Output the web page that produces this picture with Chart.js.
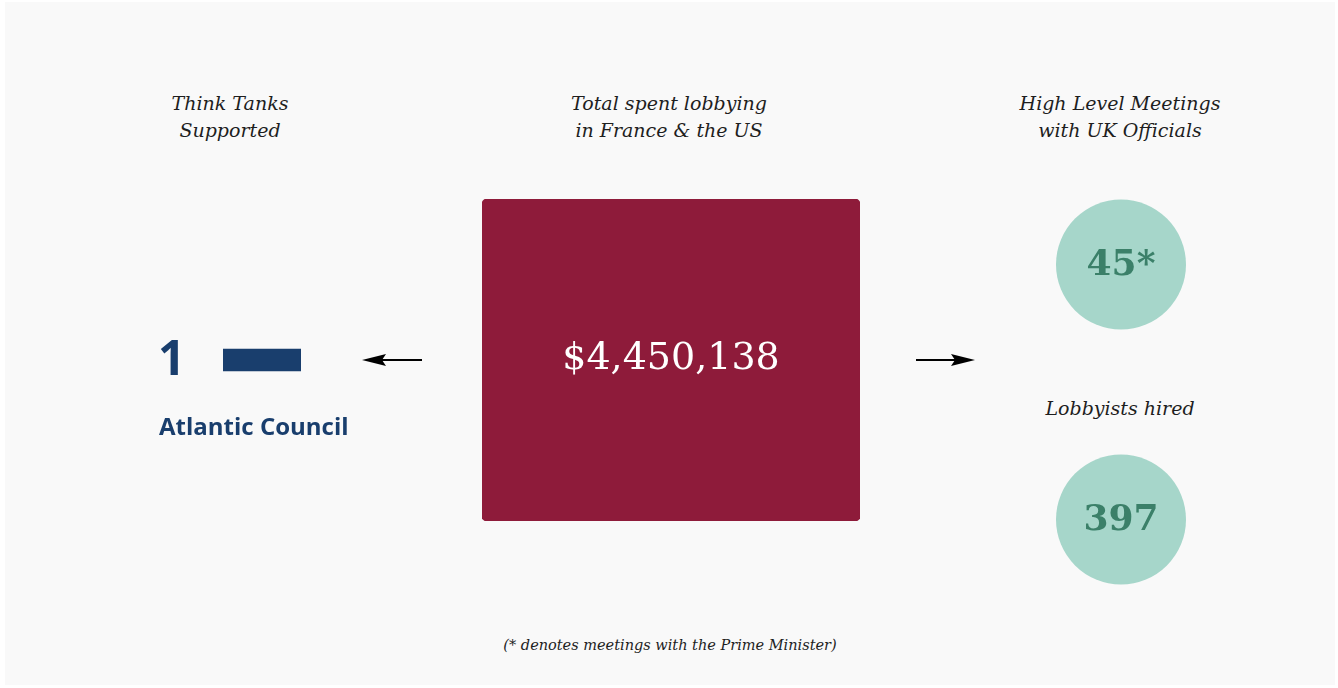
<!DOCTYPE html>
<html>
<head>
<meta charset="utf-8">
<script src="https://cdn.jsdelivr.net/npm/chart.js@4.4.1/dist/chart.umd.min.js"></script>
<style>
  html, body { margin: 0; padding: 0; background: #ffffff; overflow: hidden; }
  #panel { position: absolute; left: 5px; top: 2px; width: 1330px; height: 683px; background: #f9f9f9; }
  canvas { position: absolute; }
  .head { position: absolute; font-family: 'DejaVu Serif', serif; font-style: italic; font-size: 19px;
          line-height: 27px; color: #1e1e1e; text-align: center; white-space: pre; }
</style>
</head>
<body>
<div id="panel"></div>

<div class="head" style="left:130px; top:90px; width:200px;">Think Tanks
Supported</div>
<div class="head" style="left:519px; top:90px; width:300px;">Total spent lobbying
in France &amp; the US</div>
<div class="head" style="left:970px; top:90px; width:300px;">High Level Meetings
with UK Officials</div>
<div class="head" style="left:1020px; top:395px; width:200px;">Lobbyists hired</div>
<div class="head" style="left:420px; top:632px; width:500px; font-size:14.5px;">(* denotes meetings with the Prime Minister)</div>

<canvas id="tanks" style="left:150px; top:320px;" width="240" height="130"></canvas>
<canvas id="money" style="left:340px; top:190px;" width="660" height="340"></canvas>
<canvas id="circles" style="left:991px; top:72px;" width="260" height="640"></canvas>

<script>
// think tanks supported
const tankNames = ['Atlantic Council'];
const tankCounts = [1];

// total spent lobbying (USD)
const spendLabels = ['Total spent lobbying in France & the US'];
const spendValues = [4450138];

// right-hand circles
const circleLabels = ['High Level Meetings with UK Officials', 'Lobbyists hired'];
const circleValues = [45, 397];
const circleMarks = ['*', ''];

const navy = '#193e6d';
const crimson = '#8e1b3a';

/*** barra dos think tanks ***/
const tankText = {
  id: 'tankText',
  afterDatasetsDraw(chart) {
    const ctx = chart.ctx;
    const bar = chart.getDatasetMeta(0).data[0];
    ctx.save();
    ctx.fillStyle = navy;
    ctx.textBaseline = 'middle';
    ctx.textAlign = 'left';
    ctx.font = 'bold 48px "Open Sans", sans-serif';
    ctx.fillText(String(tankCounts[0]), 8, bar.y + 1);
    ctx.font = 'bold 24px "Open Sans", sans-serif';
    ctx.fillText(tankNames[0], 9, bar.y + 68);
    ctx.restore();
  }
};

new Chart(document.getElementById('tanks'), {
  type: 'bar',
  data: {
    labels: tankNames,
    datasets: [{ data: tankCounts, backgroundColor: navy, barThickness: 22 }]
  },
  options: {
    indexAxis: 'y',
    responsive: false,
    animation: false,
    layout: { padding: { left: 73, right: 89, top: 20, bottom: 70 } },
    plugins: { legend: { display: false }, tooltip: { enabled: false } },
    scales: {
      x: { min: 0, max: 1, display: false },
      y: { display: false }
    }
  },
  plugins: [tankText]
});

/*** quadrado do total gasto + setas ***/
function arrow(ctx, x1, x2, y) {
  // line from x1 to the tip at x2
  const dir = x2 > x1 ? 1 : -1;
  ctx.beginPath();
  ctx.moveTo(x1, y);
  ctx.lineTo(x2 - dir * 18, y);
  ctx.lineWidth = 2;
  ctx.strokeStyle = '#000';
  ctx.stroke();
  ctx.beginPath();
  ctx.moveTo(x2, y);
  ctx.lineTo(x2 - dir * 24, y - 6);
  ctx.lineTo(x2 - dir * 20, y);
  ctx.lineTo(x2 - dir * 24, y + 6);
  ctx.closePath();
  ctx.fillStyle = '#000';
  ctx.fill();
}

const moneyText = {
  id: 'moneyText',
  afterDatasetsDraw(chart) {
    const ctx = chart.ctx;
    const bar = chart.getDatasetMeta(0).data[0];
    const cy = (bar.y + bar.base) / 2;
    const left = bar.x - bar.width / 2, right = bar.x + bar.width / 2;
    ctx.save();
    ctx.fillStyle = '#fff';
    ctx.textAlign = 'center';
    ctx.textBaseline = 'middle';
    ctx.font = '38px "DejaVu Serif", serif';
    ctx.fillText('$' + spendValues[0].toLocaleString('en-US'), bar.x, cy - 1);
    arrow(ctx, left - 60, left - 120, cy);
    arrow(ctx, right + 56, right + 115, cy);
    ctx.restore();
  }
};

new Chart(document.getElementById('money'), {
  type: 'bar',
  data: {
    labels: spendLabels,
    datasets: [{
      data: spendValues,
      backgroundColor: crimson,
      borderRadius: 5,
      borderSkipped: false,
      barPercentage: 1,
      categoryPercentage: 1
    }]
  },
  options: {
    responsive: false,
    animation: false,
    layout: { padding: { left: 142, right: 140, top: 9, bottom: 9 } },
    plugins: { legend: { display: false }, tooltip: { enabled: false } },
    scales: {
      x: { display: false },
      y: { min: 0, max: spendValues[0], display: false }
    }
  },
  plugins: [moneyText]
});

/*** circulos ***/
const circleText = {
  id: 'circleText',
  afterDatasetsDraw(chart) {
    const ctx = chart.ctx;
    ctx.save();
    ctx.fillStyle = '#3b8069';
    ctx.textAlign = 'center';
    ctx.textBaseline = 'middle';
    ctx.font = 'bold 36px "DejaVu Serif", serif';
    chart.getDatasetMeta(0).data.forEach(function (pt, i) {
      ctx.fillText(circleValues[i] + circleMarks[i], pt.x, pt.y + 1);
    });
    ctx.restore();
  }
};

new Chart(document.getElementById('circles'), {
  type: 'bubble',
  data: {
    datasets: [{
      data: circleLabels.map(function (lab, i) { return { x: 0, y: i, r: 65 }; }),
      backgroundColor: '#a6d6ca',
      borderWidth: 0,
      hoverRadius: 0,
      clip: false
    }]
  },
  options: {
    responsive: false,
    animation: false,
    layout: { padding: 65 },
    plugins: { legend: { display: false }, tooltip: { enabled: false } },
    scales: {
      x: { min: -1, max: 1, display: false },
      y: { min: -0.5, max: 1.5, reverse: true, display: false }
    }
  },
  plugins: [circleText]
});
</script>
</body>
</html>
